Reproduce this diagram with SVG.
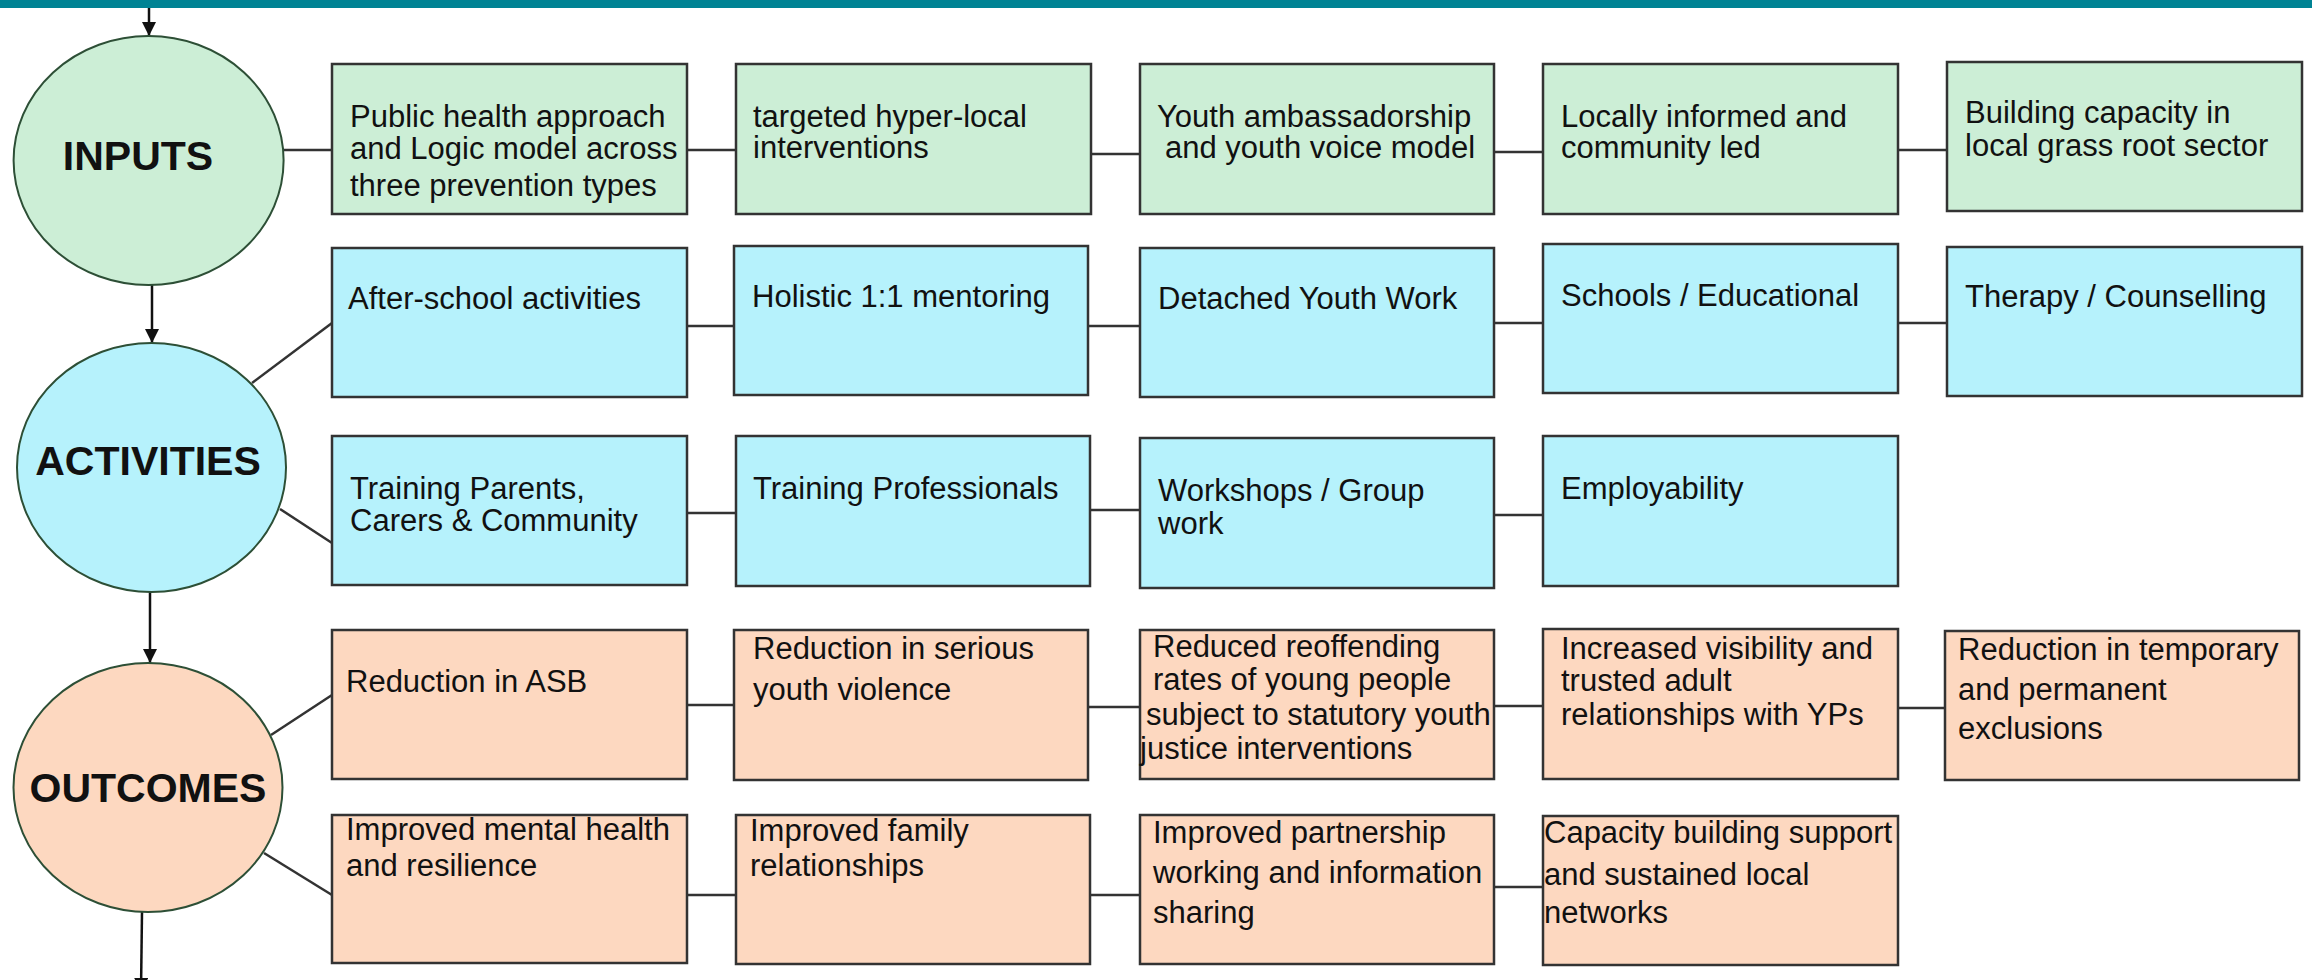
<svg xmlns="http://www.w3.org/2000/svg" width="2312" height="980" viewBox="0 0 2312 980">
<defs>
<marker id="ah" viewBox="0 0 14 14" refX="14" refY="7" markerWidth="14" markerHeight="14" orient="auto" markerUnits="userSpaceOnUse"><path d="M0,0 L14,7 L0,14 z" fill="#111"/></marker>
</defs>
<style>
.g{fill:#cceed6;stroke:#333;stroke-width:2.5}
.b{fill:#b6f2fc;stroke:#333;stroke-width:2.5}
.p{fill:#fdd8c0;stroke:#333;stroke-width:2.5}
.ce{stroke:#2d4f36;stroke-width:2}
.t{font-family:"Liberation Sans",Arial,sans-serif;font-size:31px;fill:#111}
.h{font-family:"Liberation Sans",Arial,sans-serif;font-size:41px;font-weight:bold;fill:#111;text-anchor:middle}
.c{stroke:#333;stroke-width:2.5;fill:none}
.a{stroke:#111;stroke-width:2.5;fill:none;marker-end:url(#ah)}
</style>
<rect x="0" y="0" width="2312" height="980" fill="#fff"/>
<rect x="0" y="0" width="2312" height="8" fill="#008394"/>

<g id="connectors">
<line class="a" x1="149" y1="8" x2="149" y2="36"/>
<line class="a" x1="152" y1="285" x2="152" y2="343"/>
<line class="a" x1="150" y1="592" x2="150" y2="663"/>
<line class="a" x1="142" y1="912" x2="141" y2="992"/>
<line class="c" x1="284" y1="150" x2="332" y2="150"/>
<line class="c" x1="687" y1="150" x2="736" y2="150"/>
<line class="c" x1="1091" y1="154" x2="1140" y2="154"/>
<line class="c" x1="1494" y1="152" x2="1543" y2="152"/>
<line class="c" x1="1898" y1="150" x2="1947" y2="150"/>
<line class="c" x1="252" y1="383" x2="332" y2="323"/>
<line class="c" x1="687" y1="326" x2="734" y2="326"/>
<line class="c" x1="1088" y1="326" x2="1140" y2="326"/>
<line class="c" x1="1494" y1="323" x2="1543" y2="323"/>
<line class="c" x1="1898" y1="323" x2="1947" y2="323"/>
<line class="c" x1="280" y1="509" x2="332" y2="543"/>
<line class="c" x1="687" y1="513" x2="736" y2="513"/>
<line class="c" x1="1090" y1="510" x2="1140" y2="510"/>
<line class="c" x1="1494" y1="515" x2="1543" y2="515"/>
<line class="c" x1="271" y1="735" x2="332" y2="695"/>
<line class="c" x1="687" y1="705" x2="734" y2="705"/>
<line class="c" x1="1088" y1="707" x2="1140" y2="707"/>
<line class="c" x1="1494" y1="706" x2="1543" y2="706"/>
<line class="c" x1="1898" y1="708" x2="1945" y2="708"/>
<line class="c" x1="264" y1="853" x2="332" y2="895"/>
<line class="c" x1="687" y1="895" x2="736" y2="895"/>
<line class="c" x1="1090" y1="895" x2="1140" y2="895"/>
<line class="c" x1="1494" y1="887" x2="1543" y2="887"/>
</g>

<g id="inputs">
<ellipse class="g ce" cx="148.6" cy="160.5" rx="135" ry="124.5"/>
<text class="h" x="138" y="170">INPUTS</text>
</g>
<g id="activities">
<ellipse class="b ce" cx="151.5" cy="467.5" rx="134.5" ry="124.5"/>
<text class="h" x="148" y="475">ACTIVITIES</text>
</g>
<g id="outcomes">
<ellipse class="p ce" cx="148" cy="787.5" rx="134.5" ry="124.5"/>
<text class="h" x="148" y="802">OUTCOMES</text>
</g>

<g id="in1"><rect class="g" x="332" y="64" width="355" height="150"/>
<text class="t" x="350" y="127">Public health approach</text>
<text class="t" x="350" y="159">and Logic model across</text>
<text class="t" x="350" y="196">three prevention types</text></g>
<g id="in2"><rect class="g" x="736" y="64" width="355" height="150"/>
<text class="t" x="753" y="127">targeted hyper-local</text>
<text class="t" x="753" y="158">interventions</text></g>
<g id="in3"><rect class="g" x="1140" y="64" width="354" height="150"/>
<text class="t" x="1157" y="127">Youth ambassadorship</text>
<text class="t" x="1165" y="158">and youth voice model</text></g>
<g id="in4"><rect class="g" x="1543" y="64" width="355" height="150"/>
<text class="t" x="1561" y="127">Locally informed and</text>
<text class="t" x="1561" y="158">community led</text></g>
<g id="in5"><rect class="g" x="1947" y="62" width="355" height="149"/>
<text class="t" x="1965" y="123">Building capacity in</text>
<text class="t" x="1965" y="156">local grass root sector</text></g>

<g id="ac1"><rect class="b" x="332" y="248" width="355" height="149"/>
<text class="t" x="348" y="309">After-school activities</text></g>
<g id="ac2"><rect class="b" x="734" y="246" width="354" height="149"/>
<text class="t" x="752" y="307">Holistic 1:1 mentoring</text></g>
<g id="ac3"><rect class="b" x="1140" y="248" width="354" height="149"/>
<text class="t" x="1158" y="309">Detached Youth Work</text></g>
<g id="ac4"><rect class="b" x="1543" y="244" width="355" height="149"/>
<text class="t" x="1561" y="306">Schools / Educational</text></g>
<g id="ac5"><rect class="b" x="1947" y="247" width="355" height="149"/>
<text class="t" x="1965" y="307">Therapy / Counselling</text></g>

<g id="ac6"><rect class="b" x="332" y="436" width="355" height="149"/>
<text class="t" x="350" y="499">Training Parents,</text>
<text class="t" x="350" y="531">Carers &amp; Community</text></g>
<g id="ac7"><rect class="b" x="736" y="436" width="354" height="150"/>
<text class="t" x="753" y="499">Training Professionals</text></g>
<g id="ac8"><rect class="b" x="1140" y="438" width="354" height="150"/>
<text class="t" x="1158" y="501">Workshops / Group</text>
<text class="t" x="1158" y="534">work</text></g>
<g id="ac9"><rect class="b" x="1543" y="436" width="355" height="150"/>
<text class="t" x="1561" y="499">Employability</text></g>

<g id="oc1"><rect class="p" x="332" y="630" width="355" height="149"/>
<text class="t" x="346" y="692">Reduction in ASB</text></g>
<g id="oc2"><rect class="p" x="734" y="630" width="354" height="150"/>
<text class="t" x="753" y="659">Reduction in serious</text>
<text class="t" x="753" y="700">youth violence</text></g>
<g id="oc3"><rect class="p" x="1140" y="630" width="354" height="149"/>
<text class="t" x="1153" y="657">Reduced reoffending</text>
<text class="t" x="1153" y="690">rates of young people</text>
<text class="t" x="1146" y="725">subject to statutory youth</text>
<text class="t" x="1140" y="759">justice interventions</text></g>
<g id="oc4"><rect class="p" x="1543" y="629" width="355" height="150"/>
<text class="t" x="1561" y="659">Increased visibility and</text>
<text class="t" x="1561" y="691">trusted adult</text>
<text class="t" x="1561" y="725">relationships with YPs</text></g>
<g id="oc5"><rect class="p" x="1945" y="631" width="354" height="149"/>
<text class="t" x="1958" y="660">Reduction in temporary</text>
<text class="t" x="1958" y="700">and permanent</text>
<text class="t" x="1958" y="739">exclusions</text></g>

<g id="oc6"><rect class="p" x="332" y="815" width="355" height="148"/>
<text class="t" x="346" y="840">Improved mental health</text>
<text class="t" x="346" y="876">and resilience</text></g>
<g id="oc7"><rect class="p" x="736" y="815" width="354" height="149"/>
<text class="t" x="750" y="841">Improved family</text>
<text class="t" x="750" y="876">relationships</text></g>
<g id="oc8"><rect class="p" x="1140" y="815" width="354" height="149"/>
<text class="t" x="1153" y="843">Improved partnership</text>
<text class="t" x="1153" y="883">working and information</text>
<text class="t" x="1153" y="923">sharing</text></g>
<g id="oc9"><rect class="p" x="1543" y="816" width="355" height="149"/>
<text class="t" x="1544" y="843">Capacity building support</text>
<text class="t" x="1544" y="885">and sustained local</text>
<text class="t" x="1544" y="923">networks</text></g>
</svg>
